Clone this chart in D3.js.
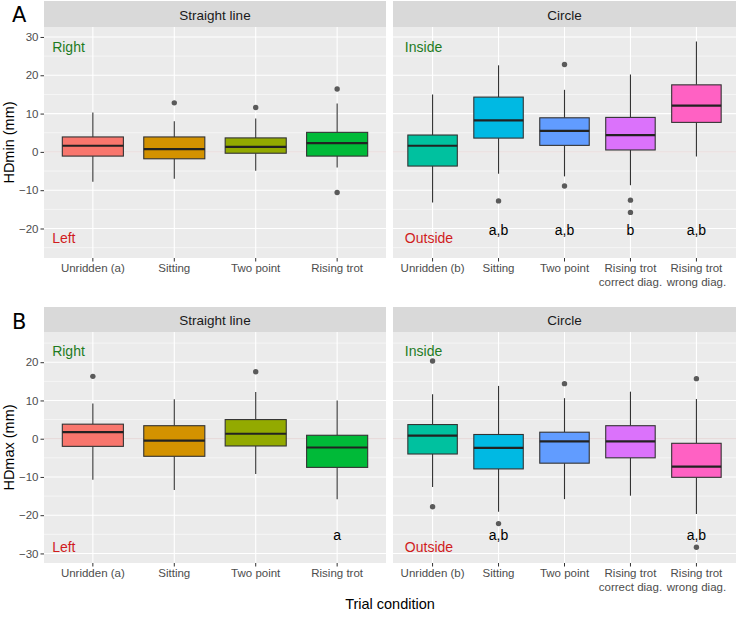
<!DOCTYPE html>
<html><head><meta charset="utf-8">
<script src="https://cdn.jsdelivr.net/npm/d3@7"></script>
<style>body{margin:0;background:#fff}svg{display:block;font-family:"Liberation Sans",Arial,sans-serif}</style>
</head><body><svg id="c" width="737" height="620"></svg>
<script>
// ---- data ----
const catsStraight = ["Unridden (a)", "Sitting", "Two point", "Rising trot"];
const catsCircle = ["Unridden (b)", "Sitting", "Two point", "Rising trot\ncorrect diag.", "Rising trot\nwrong diag."];
const coloursStraight = ["#F8766D", "#D39200", "#93AA00", "#00BA38"];
const coloursCircle = ["#00C19F", "#00B9E3", "#619CFF", "#DB72FB", "#FF61C3"];
// box stats: [lower whisker, Q1, median, Q3, upper whisker]
const hdminStraight = [[-7.8,-1.1,1.6,3.9,10.3],[-7.0,-1.8,0.7,3.9,8.0],[-4.9,-0.35,1.3,3.65,8.7],[-4.1,-1.1,2.3,5.1,12.6]];
const hdminStraightOut = [[],[12.8],[11.6],[16.4,-10.6]];
const hdminCircle = [[-13.2,-3.7,1.6,4.4,15.0],[-5.7,3.6,8.2,14.3,22.6],[-6.4,1.7,5.5,8.9,16.2],[-8.7,0.5,4.4,9.0,20.2],[-1.2,7.7,12.1,17.5,28.8]];
const hdminCircleOut = [[],[-12.8],[22.8,-8.9],[-12.6,-15.8],[]];
const hdmaxStraight = [[-10.7,-2.0,1.7,3.8,9.2],[-13.4,-4.6,-0.5,3.4,10.3],[-9.2,-1.9,1.3,5.0,12.2],[-15.8,-7.5,-2.3,0.9,10.0]];
const hdmaxStraightOut = [[16.3],[],[17.5],[]];
const hdmaxCircle = [[-12.6,-4.0,0.8,3.7,11.6],[-19.1,-7.9,-2.4,1.1,13.8],[-15.8,-6.4,-0.7,1.7,10.6],[-14.9,-5.0,-0.7,3.4,12.3],[-19.7,-10.1,-7.3,-1.2,10.4]];
const hdmaxCircleOut = [[20.3,-17.8],[-22.2],[14.4],[],[15.7,-28.4]];
const lettersMinStraight = ["","","",""];
const lettersMinCircle = ["","a,b","a,b","b","a,b"];
const lettersMaxStraight = ["","","","a"];
const lettersMaxCircle = ["","a,b","","","a,b"];
const letterYMin = -20.3, letterYMax = -25.2;
const ticksMin = [-20,-10,0,10,20,30];
const ticksMax = [-30,-20,-10,0,10,20];
const domainMin = [-27.7, 32.6];
const domainMax = [-32.5, 27.9];

// ---- drawing ----
const svg = d3.select("#c");
const panelX = [[44,386],[393,736]];

function drawRow(opt){
  const {top, stripTop, bottom, domain, ticks, title, tag, tagY, panels, sideY} = opt;
  const y = d3.scaleLinear().domain(domain).range([bottom, top]);
  // tag
  svg.append("text").attr("x",12).attr("y",tagY).attr("font-size",21).attr("fill","#000")
     .attr("font-family","DejaVu Sans, sans-serif").attr("dominant-baseline","central").text(tag);
  // y title
  svg.append("text").attr("transform",`translate(9,${(top+bottom)/2}) rotate(-90)`)
     .attr("text-anchor","middle").attr("dominant-baseline","central").attr("font-size",14.5).attr("fill","#000").text(title);
  // y axis
  const ya = svg.append("g").attr("transform",`translate(${panelX[0][0]},0)`)
    .call(d3.axisLeft(y).tickValues(ticks).tickSize(3.5).tickPadding(2).tickFormat(d=> d<0? "\u2212"+Math.abs(d): d));
  ya.select(".domain").remove();
  ya.selectAll(".tick line").attr("stroke","#333").attr("stroke-width",1);
  ya.selectAll(".tick text").attr("fill","#4d4d4d").attr("font-size",11.5).attr("font-family","Liberation Sans, Arial, sans-serif");
  const minor = [];
  for(let i=0;i<ticks.length-1;i++) minor.push((ticks[i]+ticks[i+1])/2);
  minor.push(ticks[0]-5, ticks[ticks.length-1]+5);

  panels.forEach((p,pi)=>{
    const [x0,x1] = panelX[pi];
    const g = svg.append("g");
    // strip
    g.append("rect").attr("x",x0).attr("y",stripTop).attr("width",x1-x0).attr("height",top-stripTop).attr("fill","#d9d9d9");
    g.append("text").attr("x",(x0+x1)/2).attr("y",(stripTop+top)/2+1).attr("text-anchor","middle")
      .attr("dominant-baseline","central").attr("font-size",13.5).attr("fill","#1a1a1a").text(p.name);
    // panel
    g.append("rect").attr("x",x0).attr("y",top).attr("width",x1-x0).attr("height",bottom-top).attr("fill","#ebebeb");
    const x = d3.scalePoint().domain(p.cats).range([x0,x1]).padding(0.6);
    const step = x.step();
    minor.filter(v=>v>domain[0]&&v<domain[1]).forEach(v=>{
      g.append("line").attr("x1",x0).attr("x2",x1).attr("y1",y(v)).attr("y2",y(v)).attr("stroke","#fff").attr("stroke-width",0.55);
    });
    ticks.forEach(v=>{
      g.append("line").attr("x1",x0).attr("x2",x1).attr("y1",y(v)).attr("y2",y(v)).attr("stroke","#fff").attr("stroke-width",1.1);
    });
    p.cats.forEach(c=>{
      g.append("line").attr("x1",x(c)).attr("x2",x(c)).attr("y1",top).attr("y2",bottom).attr("stroke","#fff").attr("stroke-width",1.1);
    });
    // zero reference line
    g.append("line").attr("x1",x0).attr("x2",x1).attr("y1",y(0)).attr("y2",y(0)).attr("stroke","#dcc9c9").attr("stroke-width",0.8);
    // x axis ticks & labels
    p.cats.forEach(c=>{
      g.append("line").attr("x1",x(c)).attr("x2",x(c)).attr("y1",bottom).attr("y2",bottom+3.5).attr("stroke","#333");
      const t = g.append("text").attr("x",x(c)).attr("y",bottom+14).attr("text-anchor","middle")
        .attr("font-size",11.5).attr("fill","#4d4d4d");
      c.split("\n").forEach((line,li)=>{
        t.append("tspan").attr("x",x(c)).attr("dy",li===0?0:13.5).text(line);
      });
    });
    // boxes
    const bw = step*0.75;
    p.cats.forEach((c,i)=>{
      const [lo,q1,med,q3,hi] = p.stats[i];
      const cx = x(c);
      g.append("line").attr("x1",cx).attr("x2",cx).attr("y1",y(hi)).attr("y2",y(q3)).attr("stroke","#333").attr("stroke-width",1.1);
      g.append("line").attr("x1",cx).attr("x2",cx).attr("y1",y(q1)).attr("y2",y(lo)).attr("stroke","#333").attr("stroke-width",1.1);
      g.append("rect").attr("x",cx-bw/2).attr("y",y(q3)).attr("width",bw).attr("height",y(q1)-y(q3))
        .attr("fill",p.colours[i]).attr("stroke","#333").attr("stroke-width",1.1);
      g.append("line").attr("x1",cx-bw/2).attr("x2",cx+bw/2).attr("y1",y(med)).attr("y2",y(med)).attr("stroke","#222").attr("stroke-width",2.2);
      p.out[i].forEach(v=>{
        g.append("circle").attr("cx",cx).attr("cy",y(v)).attr("r",2.7).attr("fill","#5a5a5a");
      });
      if(p.letters[i]){
        g.append("text").attr("x",cx).attr("y",y(p.letterY)).attr("text-anchor","middle").attr("dominant-baseline","central")
          .attr("font-size",14).attr("fill","#000").text(p.letters[i]);
      }
    });
    // side labels
    const lx = x(p.cats[0]) - p.labelOff*step;
    g.append("text").attr("x",lx).attr("y",y(sideY[0])).attr("dominant-baseline","central").attr("font-size",14)
      .attr("fill","#1e7b1e").text(p.side[0]);
    g.append("text").attr("x",lx).attr("y",y(sideY[1])).attr("dominant-baseline","central").attr("font-size",14)
      .attr("fill","#d01c1c").text(p.side[1]);
  });
}

drawRow({top:27, stripTop:1, bottom:258, domain:domainMin, ticks:ticksMin, title:"HDmin (mm)", tag:"A", tagY:15,
  sideY:[27.5,-22.6],
  panels:[
    {name:"Straight line", cats:catsStraight, colours:coloursStraight, stats:hdminStraight, out:hdminStraightOut, letters:lettersMinStraight, letterY:letterYMin, side:["Right","Left"], labelOff:0.5},
    {name:"Circle", cats:catsCircle, colours:coloursCircle, stats:hdminCircle, out:hdminCircleOut, letters:lettersMinCircle, letterY:letterYMin, side:["Inside","Outside"], labelOff:0.42}
  ]});
drawRow({top:332, stripTop:307, bottom:563, domain:domainMax, ticks:ticksMax, title:"HDmax (mm)", tag:"B", tagY:322,
  sideY:[22.9,-28.2],
  panels:[
    {name:"Straight line", cats:catsStraight, colours:coloursStraight, stats:hdmaxStraight, out:hdmaxStraightOut, letters:lettersMaxStraight, letterY:letterYMax, side:["Right","Left"], labelOff:0.5},
    {name:"Circle", cats:catsCircle, colours:coloursCircle, stats:hdmaxCircle, out:hdmaxCircleOut, letters:lettersMaxCircle, letterY:letterYMax, side:["Inside","Outside"], labelOff:0.42}
  ]});

svg.append("text").attr("x",(44+736)/2).attr("y",604).attr("text-anchor","middle").attr("dominant-baseline","central")
  .attr("font-size",14.5).attr("fill","#000").text("Trial condition");
</script>
</body></html>
